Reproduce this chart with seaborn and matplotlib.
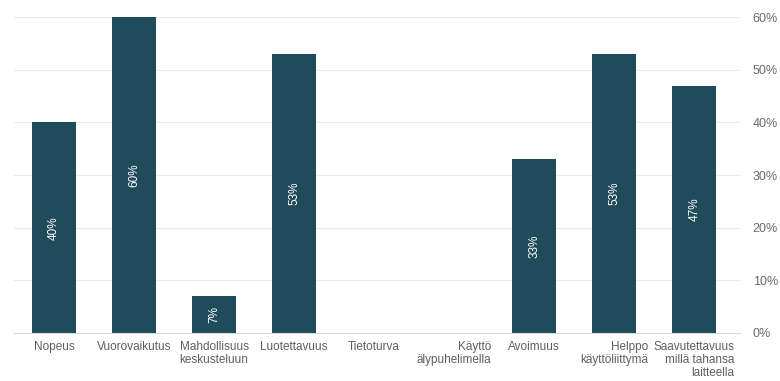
import matplotlib
matplotlib.use("Agg")
import matplotlib.pyplot as plt
import seaborn as sns
import pandas as pd

categories = ["Nopeus", "Vuorovaikutus", "Mahdollisuus\nkeskusteluun", "Luotettavuus",
              "Tietoturva", "Käyttö\nälypuhelimella", "Avoimuus", "Helppo\nkäyttöliittymä",
              "Saavutettavuus\nmillä tahansa\nlaitteella"]
values = [40, 60, 7, 53, 0, 0, 33, 53, 47]
y_ticks = [0, 10, 20, 30, 40, 50, 60]

sns.set_style("white")
plt.rcParams['font.family'] = ['Liberation Sans', 'DejaVu Sans']

df = pd.DataFrame({"cat": categories, "val": values})
fig = plt.figure(figsize=(7.8, 3.81), dpi=100)
ax = fig.add_axes([0.018, 0.126, 0.931, 0.829])
sns.barplot(data=df, x="cat", y="val", color="#204b5a", width=0.55, ax=ax,
            saturation=1, edgecolor="none")

ax.set_ylim(0, 60)
ax.set_xlim(-0.5, len(categories) - 0.5 + 0.075)
ax.set_yticks(y_ticks)
ax.set_yticklabels([f"{t}%" for t in y_ticks])
ax.yaxis.tick_right()
ax.tick_params(axis='y', length=0, pad=9, labelsize=9, labelcolor="#6a6a6a")
ax.tick_params(axis='x', length=0, pad=6, labelsize=8.5, labelcolor="#5f5f5f")
for lab in ax.get_xticklabels():
    t = lab.get_text()
    lab.set_multialignment('center' if t.startswith("Mahd") else 'right')
    lab.set_linespacing(1.12)
ax.set_xlabel("")
ax.set_ylabel("")
ax.grid(axis='y', color="#ebebeb", linewidth=0.8)
ax.set_axisbelow(True)
for s in ["top", "left", "right"]:
    ax.spines[s].set_visible(False)
ax.spines["bottom"].set_color("#d9d9d9")
ax.spines["bottom"].set_linewidth(0.8)

for i, v in enumerate(values):
    if v > 0:
        ax.text(i, v / 2, f"{v}%", rotation=90, ha='center', va='center',
                color='white', fontsize=8.5)

fig.savefig("out.png", dpi=100)
